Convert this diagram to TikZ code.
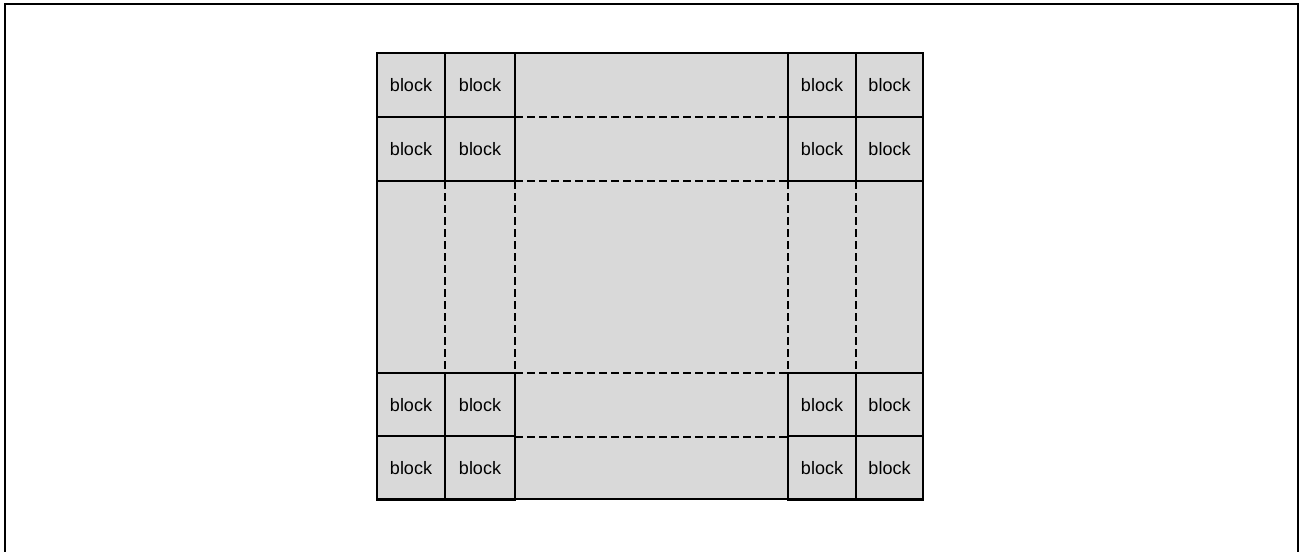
\documentclass[tikz,border=0pt]{standalone}
\usepackage{fontspec}
\setmainfont{Liberation Sans}
\begin{document}
\begin{tikzpicture}[x=0.75pt,y=-0.75pt,
  cellbox/.style={draw=black,line width=1.1pt,fill=gridgray,inner sep=0pt,outer sep=0pt,
    minimum width=#1*0.75pt,minimum height=64*0.75pt,font=\fontsize{13.5pt}{16pt}\selectfont},
  dashline/.style={line width=1.1pt,dash pattern=on 6pt off 3pt},
  frame/.style={draw=black,line width=1.6pt}]
\definecolor{gridgray}{HTML}{D9D9D9}
\useasboundingbox (0,0) rectangle (1300,551);
\draw[frame] (5,560) -- (5,4) -- (1298,4) -- (1298,560);
% background
\fill[gridgray] (377,53) rectangle (923,499);
% dashed lines
\foreach \y in {117,181,373,437} \draw[dashline] (515,\y) -- (788,\y);
\foreach \x in {445,515,788,856} \draw[dashline] (\x,181) -- (\x,373);
% blocks
\foreach \r/\yc in {1/85,2/149,3/405,4/468}{
  \node[cellbox=68] (b\r a) at (411,\yc) {block};
  \node[cellbox=70] (b\r b) at (480,\yc) {block};
  \node[cellbox=68] (b\r c) at (822,\yc) {block};
  \node[cellbox=67] (b\r d) at (889.5,\yc) {block};
}
% outer rectangle
\draw[line width=1.1pt] (377,53) rectangle (923,499);
\end{tikzpicture}
\end{document}
